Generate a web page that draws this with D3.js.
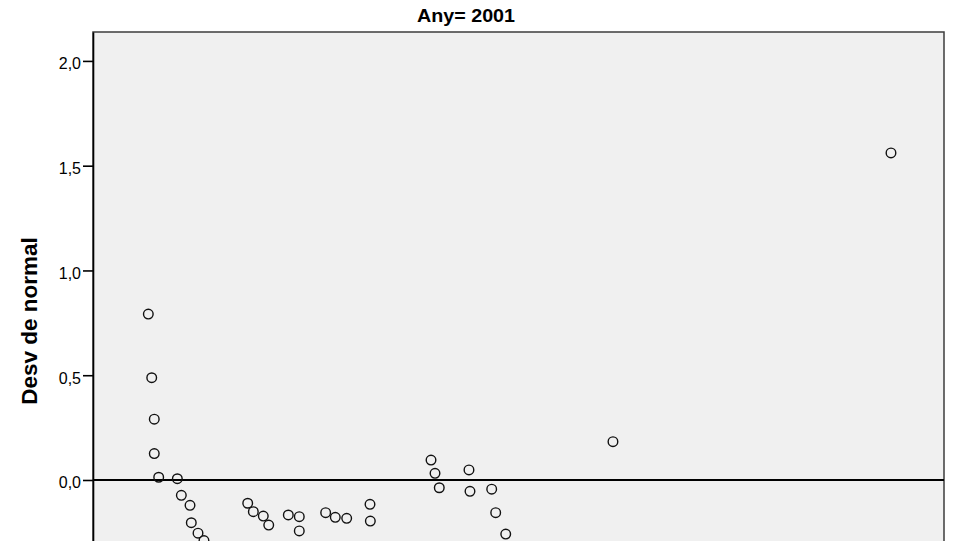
<!DOCTYPE html>
<html>
<head>
<meta charset="utf-8">
<script src="https://cdn.jsdelivr.net/npm/d3@7"></script>
<style>
  html, body { margin: 0; padding: 0; background: #ffffff; }
  svg { display: block; font-family: Arial, "Liberation Sans", sans-serif; }
</style>
</head>
<body>
<svg id="chart" width="955" height="541"></svg>
<script>
// Detrended normal Q-Q plot, year 2001
const chartTitle = "Any= 2001";
const yAxisTitle = "Desv de normal";

// Observed values (x) and deviation from normal (y)
const observed = [
  6.50, 6.90, 7.20, 7.20, 7.72, 9.91, 10.38, 11.40, 11.55, 12.34, 13.04,
  18.18, 18.84, 20.01, 20.65, 22.95, 24.24, 24.24, 27.34, 28.47, 29.81,
  32.55, 32.59, 39.72, 40.19, 40.69, 44.18, 44.30, 46.85, 47.32, 48.50,
  61.10, 93.77
];
const deviation = [
  0.792, 0.488, 0.290, 0.126, 0.013, 0.006, -0.073, -0.121, -0.204, -0.254, -0.289,
  -0.111, -0.151, -0.172, -0.215, -0.167, -0.175, -0.243, -0.156, -0.178, -0.183,
  -0.116, -0.196, 0.095, 0.032, -0.037, 0.048, -0.054, -0.044, -0.156, -0.258,
  0.183, 1.561
];
const yTicks = [0, 0.5, 1.0, 1.5, 2.0];

const svg = d3.select("#chart");

const plot = { left: 93, right: 944, top: 32 };

const x = d3.scaleLinear().domain([0, 100]).range([plot.left, plot.right]);
const y = d3.scaleLinear().domain([-0.4, 2.138]).range([563.8, plot.top]);

const plotBottom = y.range()[0];

// plot background and frame
svg.append("rect")
  .attr("x", plot.left)
  .attr("y", plot.top)
  .attr("width", plot.right - plot.left)
  .attr("height", plotBottom - plot.top)
  .attr("fill", "#f0f0f0")
  .attr("stroke", "#3c3c3c")
  .attr("stroke-width", 1.5);

// reference line at zero deviation
svg.append("line")
  .attr("x1", plot.left)
  .attr("x2", plot.right)
  .attr("y1", y(0))
  .attr("y2", y(0))
  .attr("stroke", "#000")
  .attr("stroke-width", 2);

// y axis
const fmt = d => d3.format(".1f")(d).replace(".", ",");
const yAxis = d3.axisLeft(y)
  .tickValues(yTicks)
  .tickFormat(fmt)
  .tickSize(10)
  .tickSizeOuter(0)
  .tickPadding(2);

const gy = svg.append("g")
  .attr("transform", `translate(${plot.left},0)`)
  .call(yAxis);
gy.select(".domain").attr("stroke", "#000").attr("stroke-width", 1.6);
gy.selectAll(".tick line").attr("stroke", "#000").attr("stroke-width", 1.6);
gy.selectAll(".tick text")
  .attr("fill", "#000")
  .attr("font-size", 16)
  .attr("font-family", "Arial, 'Liberation Sans', sans-serif")
  .attr("dy", "0.5em");

// points
const pts = observed.map((v, i) => ({ x: v, y: deviation[i] }));
svg.append("g")
  .selectAll("circle")
  .data(pts)
  .join("circle")
  .attr("cx", d => x(d.x))
  .attr("cy", d => y(d.y))
  .attr("r", 4.8)
  .attr("fill", "none")
  .attr("stroke", "#111")
  .attr("stroke-width", 1.4);

// titles
svg.append("text")
  .attr("x", 466)
  .attr("y", 22)
  .attr("text-anchor", "middle")
  .attr("font-size", 17.5)
  .attr("font-weight", "bold")
  .attr("fill", "#000")
  .attr("textLength", 98)
  .attr("lengthAdjust", "spacingAndGlyphs")
  .text(chartTitle);

svg.append("text")
  .attr("transform", "translate(37,321) rotate(-90)")
  .attr("text-anchor", "middle")
  .attr("font-size", 22.5)
  .attr("font-weight", "bold")
  .attr("fill", "#000")
  .text(yAxisTitle);
</script>
</body>
</html>
